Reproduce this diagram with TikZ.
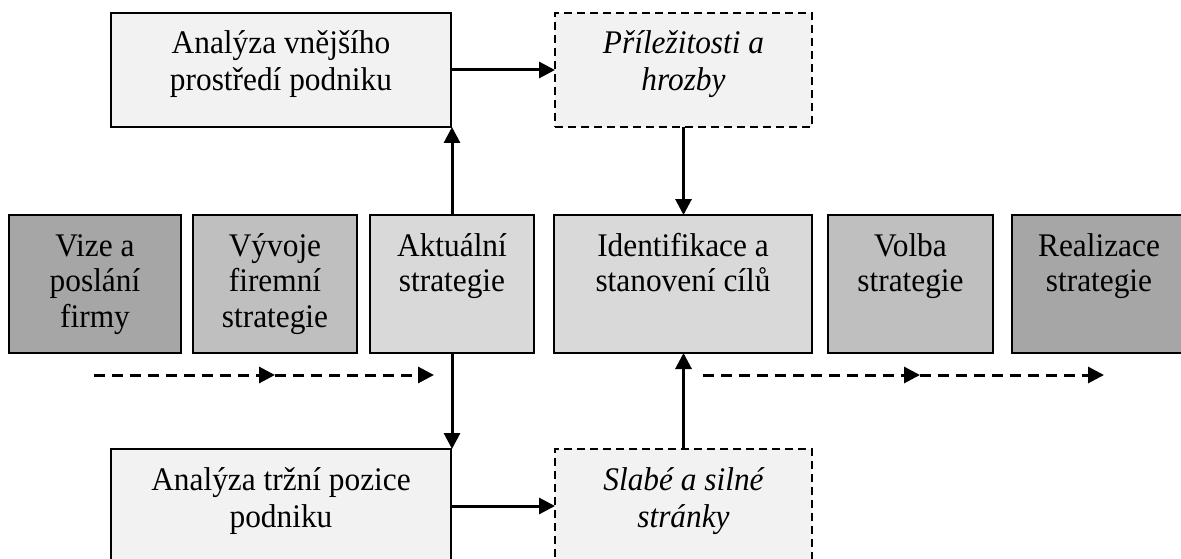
\documentclass[tikz,border=0pt]{standalone}
\usepackage{fontspec}
\setmainfont{Liberation Serif}[FakeStretch=0.95]
\usetikzlibrary{arrows.meta}

% Text inside a box: fixed size, lines centred, first baseline 41pt below the top
\newcommand\boxtext[3]{\parbox[c][#2][t]{#1}{\centering\rule{0pt}{41pt}#3}}

\definecolor{dark}{HTML}{A6A6A6}
\definecolor{mid}{HTML}{BFBFBF}
\definecolor{lite}{HTML}{D9D9D9}
\definecolor{pale}{HTML}{F2F2F2}

\tikzset{
  stage/.style={draw=black, line width=2.6pt, inner sep=0pt, outer sep=0pt,
    anchor=north west, font=\fontsize{33}{35.5}\selectfont},
  solidbox/.style={stage, fill=pale, font=\fontsize{33}{37}\selectfont},
  dashbox/.style={stage, fill=pale, dash pattern=on 8pt off 5pt,
    font=\fontsize{33}{37}\selectfont\itshape},
  link/.style={line width=3pt, -{Triangle[length=16pt,width=16pt]}},
  flow/.style={link, dash pattern=on 11pt off 7pt},
}

\begin{document}
\begin{tikzpicture}[x=1pt,y=-1pt]
\useasboundingbox (0,0) rectangle (1181,559);

% analysis boxes
\node[solidbox] (ext) at (111,13) {\boxtext{340pt}{114pt}{Analýza vnějšího\\prostředí podniku}};
\node[dashbox] (opp) at (555,13) {\boxtext{257pt}{114pt}{Příležitosti a\\hrozby}};
\node[solidbox] (mkt) at (111,449) {\boxtext{340pt}{114pt}{Analýza tržní pozice\\podniku}};
\node[dashbox] (sw) at (555,449) {\boxtext{257pt}{114pt}{Slabé a silné\\stránky}};

% process stages
\node[stage, fill=dark] (vize) at (9,215) {\boxtext{172pt}{138pt}{Vize a\\poslání\\firmy}};
\node[stage, fill=mid] (vyv) at (193,215) {\boxtext{164pt}{138pt}{Vývoje\\firemní\\strategie}};
\node[stage, fill=lite] (akt) at (370,215) {\boxtext{164pt}{138pt}{Aktuální\\strategie}};
\node[stage, fill=lite] (cil) at (554,215) {\boxtext{258pt}{138pt}{Identifikace a\\stanovení cílů}};
\node[stage, fill=mid] (volba) at (828,215) {\boxtext{165pt}{138pt}{Volba\\strategie}};
\node[stage, fill=dark] (real) at (1012,215) {\boxtext{174pt}{138pt}{Realizace\\strategie}};

% time flow
\coordinate (l0) at (94,375);
\coordinate (l1) at (275,375);
\coordinate (l2) at (434,375);
\coordinate (r0) at (703,375);
\coordinate (r1) at (920,375);
\coordinate (r2) at (1104,375);
\draw[flow] (l0) -- (l1);
\draw[flow] (l1) -- (l2);
\draw[flow] (r0) -- (r1);
\draw[flow] (r1) -- (r2);

% connectors
\draw[link] (ext.east) -- (opp.west);
\draw[link] (mkt.east) -- (sw.west);
\draw[link] (akt.north) -- (akt.north |- ext.south);
\draw[link] (akt.south) -- (akt.south |- mkt.north);
\draw[link] (opp.south) -- (opp.south |- cil.north);
\draw[link] (sw.north) -- (sw.north |- cil.south);
\end{tikzpicture}
\end{document}
